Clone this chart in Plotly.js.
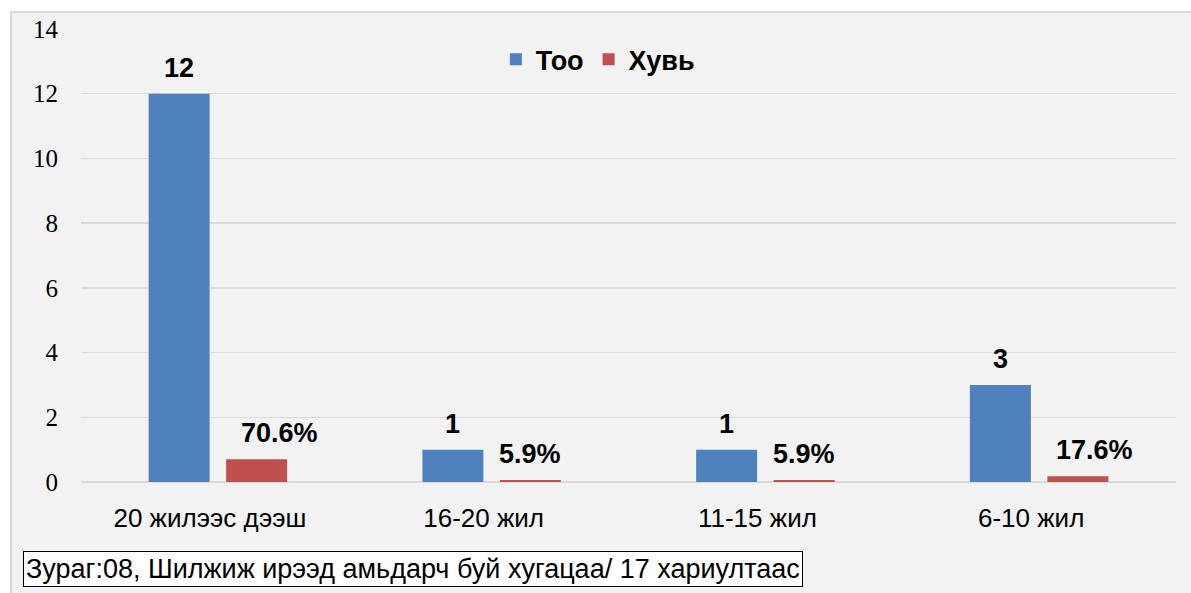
<!DOCTYPE html>
<html>
<head>
<meta charset="utf-8">
<script src="https://cdn.plot.ly/plotly-3.0.1.min.js"></script>
<style>
html,body{margin:0;padding:0;background:#fff;width:1191px;height:593px;overflow:hidden;}
#chart{position:absolute;left:10px;top:11px;width:1181px;height:582px;border-top:2px solid #d9d9d9;border-left:2px solid #d9d9d9;box-sizing:border-box;background:#f2f2f2;}
</style>
</head>
<body>
<div id="chart"></div>
<script>
const categories = ["20 жилээс дээш", "16-20 жил", "11-15 жил", "6-10 жил"];
const tooValues = [12, 1, 1, 3];
const huviValues = [0.706, 0.059, 0.059, 0.176];
const tooLabels = ["12", "1", "1", "3"];
const huviLabels = ["70.6%", "5.9%", "5.9%", "17.6%"];
const seriesNames = ["Тоо", "Хувь"];
const yTicks = [0, 2, 4, 6, 8, 10, 12, 14];
const caption = "Зураг:08, Шилжиж ирээд амьдарч буй хугацаа/ 17 хариултаас";

const blue = "#4F81BD", red = "#C0504D";
const sans = "Liberation Sans";
const serif = "Liberation Serif";
const traces = [
  {type: "bar", name: seriesNames[0], x: categories, y: tooValues, marker: {color: blue}, hoverinfo: "none"},
  {type: "bar", name: seriesNames[1], x: categories, y: huviValues, marker: {color: red}, hoverinfo: "none"}
];

const labelFont = {family: sans, size: 27, color: "#000"};
const redShift = [23, 0, 0, 17];
const annotations = [];
categories.forEach((c, i) => {
  annotations.push({x: c, y: tooValues[i], xref: "x", yref: "y", text: "<b>" + tooLabels[i] + "</b>",
    showarrow: false, xshift: -38.75, yshift: 26, yanchor: "middle", font: labelFont});
  annotations.push({x: c, y: huviValues[i], xref: "x", yref: "y", text: "<b>" + huviLabels[i] + "</b>",
    showarrow: false, xshift: 38.75 + redShift[i], yshift: 26, yanchor: "middle", font: labelFont});
});
annotations.push({xref: "paper", yref: "paper", x: -0.053, y: -0.193, xanchor: "left", yanchor: "middle",
  text: caption, showarrow: false, bgcolor: "#fff", bordercolor: "#000", borderwidth: 1, borderpad: 2,
  font: {family: sans, size: 27, color: "#000"}});

const layout = {
  width: 1179, height: 580,
  margin: {l: 69, r: 15, t: 16, b: 111},
  paper_bgcolor: "#f2f2f2", plot_bgcolor: "#f2f2f2",
  barmode: "group", bargap: 0.434, bargroupgap: 0.213,
  showlegend: true,
  legend: {orientation: "h", x: 0.472, xanchor: "center", y: 0.932, yanchor: "middle",
    font: {family: sans, size: 27, color: "#000", weight: "bold"},
    bgcolor: "rgba(0,0,0,0)", itemwidth: 30, tracegroupgap: 0},
  xaxis: {type: "category", showgrid: false, showline: false, zeroline: false, ticks: "",
    tickfont: {family: sans, size: 26, color: "#000"}, ticklabelstandoff: 18, ticklabelshift: -8},
  yaxis: {range: [0, 14], tickvals: yTicks, showgrid: true, gridcolor: "#d9d9d9", gridwidth: 1.5,
    zeroline: true, zerolinecolor: "#d9d9d9", zerolinewidth: 1.5, showline: false, ticks: "",
    tickfont: {family: serif, size: 25, color: "#000"}, ticklabelstandoff: 22},
  annotations: annotations
};
Plotly.newPlot("chart", traces, layout, {displayModeBar: false, staticPlot: true});
</script>
</body>
</html>
